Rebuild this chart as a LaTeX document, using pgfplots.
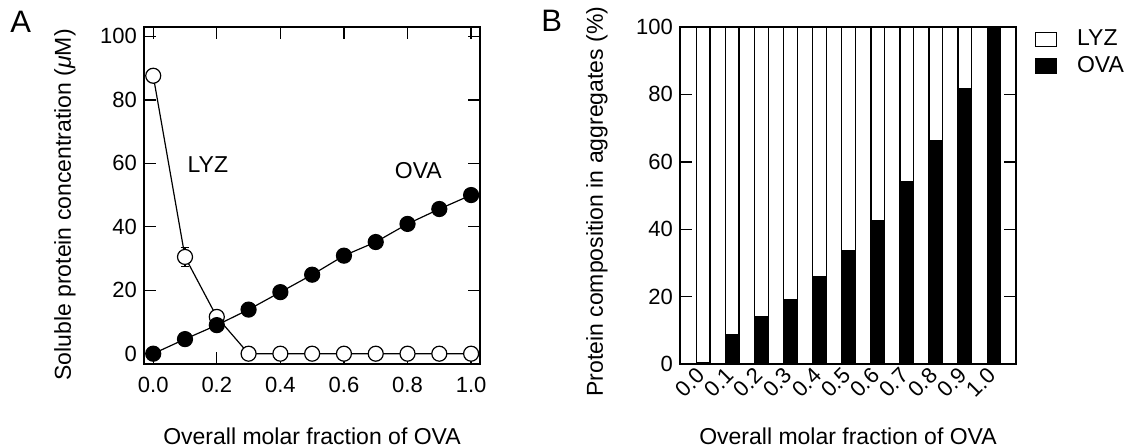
\documentclass[border=0pt]{standalone}
\usepackage{fontspec}
\setmainfont{Liberation Sans}
\usepackage{pgfplots}
\pgfplotsset{compat=1.18}

\pgfplotsset{
  panel/.style={
    scale only axis, width=168pt, height=168.5pt,
    axis line style={line width=0.7pt},
    every tick/.style={black, line width=0.7pt},
    tick align=inside, major tick length=5.8pt,
    /pgf/number format/assume math mode=true,
    tick label style={font=\fontsize{11}{13}\selectfont},
    label style={font=\fontsize{11.5}{13}\selectfont},
  },
  legimg/.style={legend image code/.code={\draw[##1,line width=0.6pt] (0pt,-3.5pt) rectangle (10.5pt,3.5pt);}},
}

\begin{document}
\begin{tikzpicture}
\useasboundingbox (0,0) rectangle (565.5pt,-223.5pt);

% panel letters
\node[anchor=base west, inner sep=0pt, font=\fontsize{15.5}{17}\selectfont] at (5pt,-16pt) {A};
\node[anchor=base west, inner sep=0pt, font=\fontsize{15.5}{17}\selectfont] at (270.5pt,-15.5pt) {B};

% A: soluble concentration
\begin{axis}[panel, at={(72pt,-182pt)}, anchor=south west,
  xmin=-0.029, xmax=1.028, ymin=-3.25, ymax=102.96,
  xtick={0,0.2,0.4,0.6,0.8,1}, ytick={0,20,40,60,80,100},
  x tick label style={/pgf/number format/.cd, fixed, fixed zerofill, precision=1, /tikz/.cd},
  xticklabel shift=3pt,
  xlabel={Overall molar fraction of OVA},
  xlabel style={at={(rel axis cs:0.5,-0.240)}, anchor=base},
  ylabel={Soluble protein concentration (\textit{μ}M)},
  ylabel style={at={(rel axis cs:-0.235,0.472)}, anchor=center},
]
% error bar on LYZ (drawn under the marks)
\addplot[draw=none, forget plot, error bars/.cd, y dir=both, y explicit,
  error bar style={black, line width=0.6pt}, error mark=-,
  error mark options={black, line width=0.6pt, mark size=2.2pt, rotate=90}]
  coordinates {(0.1,30.5) +- (0,3)};
% LYZ
\addplot[black, line width=0.6pt, mark=*, mark size=3.75pt, mark options={fill=white}]
  coordinates {(0,87.6)(0.1,30.5)(0.2,11.6)(0.3,0)(0.4,0)(0.5,0)(0.6,0)(0.7,0)(0.8,0)(0.9,0)(1.0,0)};
% OVA
\addplot[black, line width=0.6pt, mark=*, mark size=3.75pt, mark options={fill=black}]
  coordinates {(0,0)(0.1,4.6)(0.2,9.0)(0.3,13.9)(0.4,19.4)(0.5,24.9)(0.6,30.9)(0.7,35.2)(0.8,40.9)(0.9,45.6)(1.0,50.0)};
\node[font=\fontsize{11.5}{13}\selectfont] at (axis cs:0.172,59.6) {LYZ};
\node[font=\fontsize{11.5}{13}\selectfont] at (axis cs:0.834,57.7) {OVA};
\end{axis}

% B: composition of aggregates
\begin{axis}[panel, at={(340pt,-182pt)}, anchor=south west,
  ybar stacked, bar width=6.75pt,
  xmin=-0.8, xmax=10.76, ymin=0, ymax=100,
  xtick={0,1,2,3,4,5,6,7,8,9,10},
  xticklabels={0.0,0.1,0.2,0.3,0.4,0.5,0.6,0.7,0.8,0.9,1.0},
  x tick style={draw=none},
  xticklabel style={rotate=45, anchor=east, yshift=-2pt},
  ytick={0,20,40,60,80,100},
  xlabel={Overall molar fraction of OVA},
  xlabel style={at={(rel axis cs:0.5,-0.240)}, anchor=base},
  ylabel={Protein composition in aggregates (\%)},
  ylabel style={at={(rel axis cs:-0.247,0.482)}, anchor=center},
  reverse legend,
  legend style={at={(rel axis cs:1.055,1.005)}, anchor=north west, draw=none, fill=none,
    font=\fontsize{11.5}{13}\selectfont, row sep=0pt, inner sep=0pt,
    /tikz/every odd column/.append style={column sep=8pt}},
  legend cell align=left,
]
\addplot[fill=black, draw=black, line width=0.6pt, legimg]
  coordinates {(0,0.5)(1,8.7)(2,14.0)(3,19.2)(4,25.9)(5,33.8)(6,42.5)(7,54.0)(8,66.4)(9,81.7)(10,100)};
\addlegendentry{OVA}
\addplot[fill=white, draw=black, line width=0.6pt, legimg]
  coordinates {(0,99.5)(1,91.3)(2,86.0)(3,80.8)(4,74.1)(5,66.2)(6,57.5)(7,46.0)(8,33.6)(9,18.3)(10,0)};
\addlegendentry{LYZ}
\end{axis}
\end{tikzpicture}
\end{document}
